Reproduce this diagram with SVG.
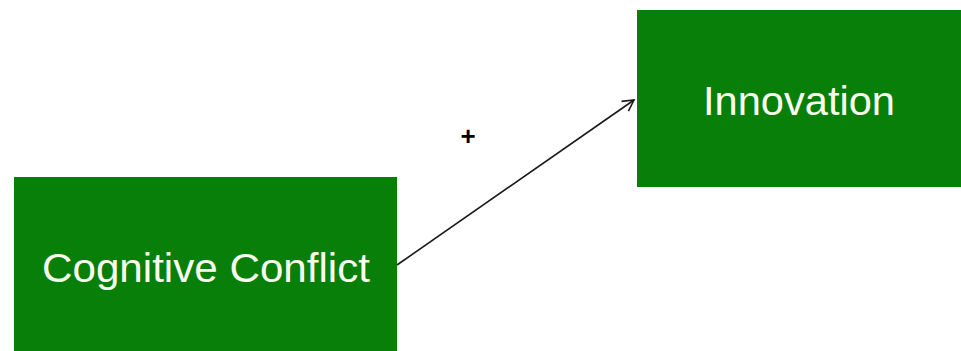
<svg xmlns="http://www.w3.org/2000/svg" width="961" height="351" viewBox="0 0 961 351">
<defs>
<style>
.box{fill:#087f08;}
.lbl{font-family:"Liberation Sans",Arial,sans-serif;font-size:41px;fill:#fafff0;}
.conn{stroke:#1a1a1a;stroke-width:1.6;fill:none;}
</style>
<marker id="arr" markerWidth="14" markerHeight="14" refX="12" refY="7" orient="auto" markerUnits="userSpaceOnUse">
<path d="M1,1 L12,7 L1,13" fill="none" stroke="#1a1a1a" stroke-width="1.6"/>
</marker>
</defs>
<rect width="961" height="351" fill="#ffffff"/>
<g id="node-cognitive-conflict">
<rect class="box" x="14" y="177" width="383" height="180"/>
<text class="lbl" x="42" y="282" textLength="328" lengthAdjust="spacingAndGlyphs">Cognitive Conflict</text>
</g>
<g id="node-innovation">
<rect class="box" x="637" y="10" width="330" height="177"/>
<text class="lbl" x="703" y="115" textLength="192" lengthAdjust="spacingAndGlyphs">Innovation</text>
</g>
<g id="connectors">
<line class="conn" x1="397" y1="265" x2="634" y2="100" marker-end="url(#arr)"/>
<text x="468" y="145" font-family="'Liberation Sans',Arial,sans-serif" font-size="26" font-weight="bold" text-anchor="middle" fill="#000">+</text>
</g>
</svg>
